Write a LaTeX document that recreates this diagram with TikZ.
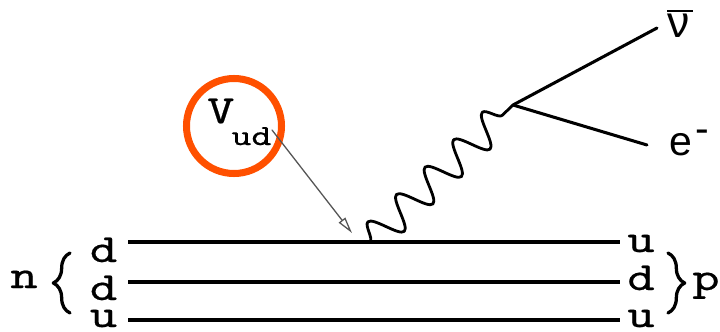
\documentclass[tikz,border=0pt]{standalone}
\usepackage{fontspec}
\usepackage{tikz}
\usetikzlibrary{arrows.meta,decorations.pathmorphing,decorations.pathreplacing}
\newfontfamily\quarkfont{lmmono10-regular.otf}[FakeStretch=1.3, FakeBold=0.5]
\newfontfamily\leptonfont{Liberation Sans}

\begin{document}
\begin{tikzpicture}[x=0.03cm, y=-0.03cm, line join=round, line cap=round,
    quarkline/.style={line width=3.4pt, line cap=butt},
    leptonline/.style={line width=2.6pt},
    boson/.style={line width=2.4pt, decorate,
      decoration={snake, segment length=1.188cm, amplitude=0.48cm}},
    hadronbrace/.style={line width=2.8pt, decorate,
      decoration={brace, amplitude=0.5cm}},
    pointer/.style={pointercolor, line width=1.1pt,
      -{Triangle[open, length=14pt, width=7pt]}},
    quark/.style={font=\quarkfont\fontsize{34}{34}\selectfont, inner sep=0pt, anchor=base},
    lepton/.style={font=\leptonfont\fontsize{35}{35}\selectfont, inner sep=0pt, anchor=base west}]
        \definecolor{ckmcolor}{RGB}{255,80,0}
        \definecolor{pointercolor}{RGB}{85,85,85}
        \useasboundingbox (0,0) rectangle (720,331);

        % quark lines, neutron on the left and proton on the right
        \coordinate (q1l) at (128,242);
        \coordinate (q1r) at (620,242);
        \coordinate (q2l) at (128,282);
        \coordinate (q2r) at (620,282);
        \coordinate (q3l) at (128,320);
        \coordinate (q3r) at (620,320);
        \draw[quarkline] (q1l) -- (q1r);
        \draw[quarkline] (q2l) -- (q2r);
        \draw[quarkline] (q3l) -- (q3r);

        \node[quark] (nd1) at (103.5,262) {d};
        \node[quark] (nd2) at (103.5,300) {d};
        \node[quark] (nu3) at (103.5,327) {u};
        \node[quark] (pu1) at (641,252) {u};
        \node[quark] (pd2) at (641,290) {d};
        \node[quark] (pu3) at (641,327) {u};

        \draw[hadronbrace] (70,313) -- (70,253);
        \draw[hadronbrace] (668,253) -- (668,313);
        \node[quark] (neutron) at (24,288) {n};
        \node[quark] (proton) at (706,290) {p};

        % W and the leptons
        \coordinate (wq) at (370,242);
        \coordinate (wl) at (513,105);
        \coordinate (nuend) at (657,28);
        \coordinate (eend) at (647,145);
        \draw[boson] (wq) -- (wl);
        \draw[leptonline] (wl) -- (nuend);
        \draw[leptonline] (wl) -- (eend);
        \node[lepton, font=\leptonfont\fontsize{38}{38}\selectfont] (antinu) at (667,37)
            {\makebox[0pt][l]{\rule[21.3pt]{22pt}{1.7pt}}\hspace{0.5pt}ν};
        \node[lepton] (electron) at (669,155) {e\hspace{3pt}\raisebox{10.3pt}{-}};

        % CKM element
        \draw[ckmcolor, line width=6pt] (234,126) circle [radius=47.5];
        \node[quark, anchor=base west] (vud) at (207,123)
            {V\hspace{-2.5pt}{\fontsize{25}{25}\selectfont\raisebox{-18.8pt}{ud}}};
        \coordinate (vtail) at (272,130);
        \coordinate (vtip) at (352,233);
        \draw[pointer] (vtail) -- (vtip);
    \end{tikzpicture}
\end{document}
